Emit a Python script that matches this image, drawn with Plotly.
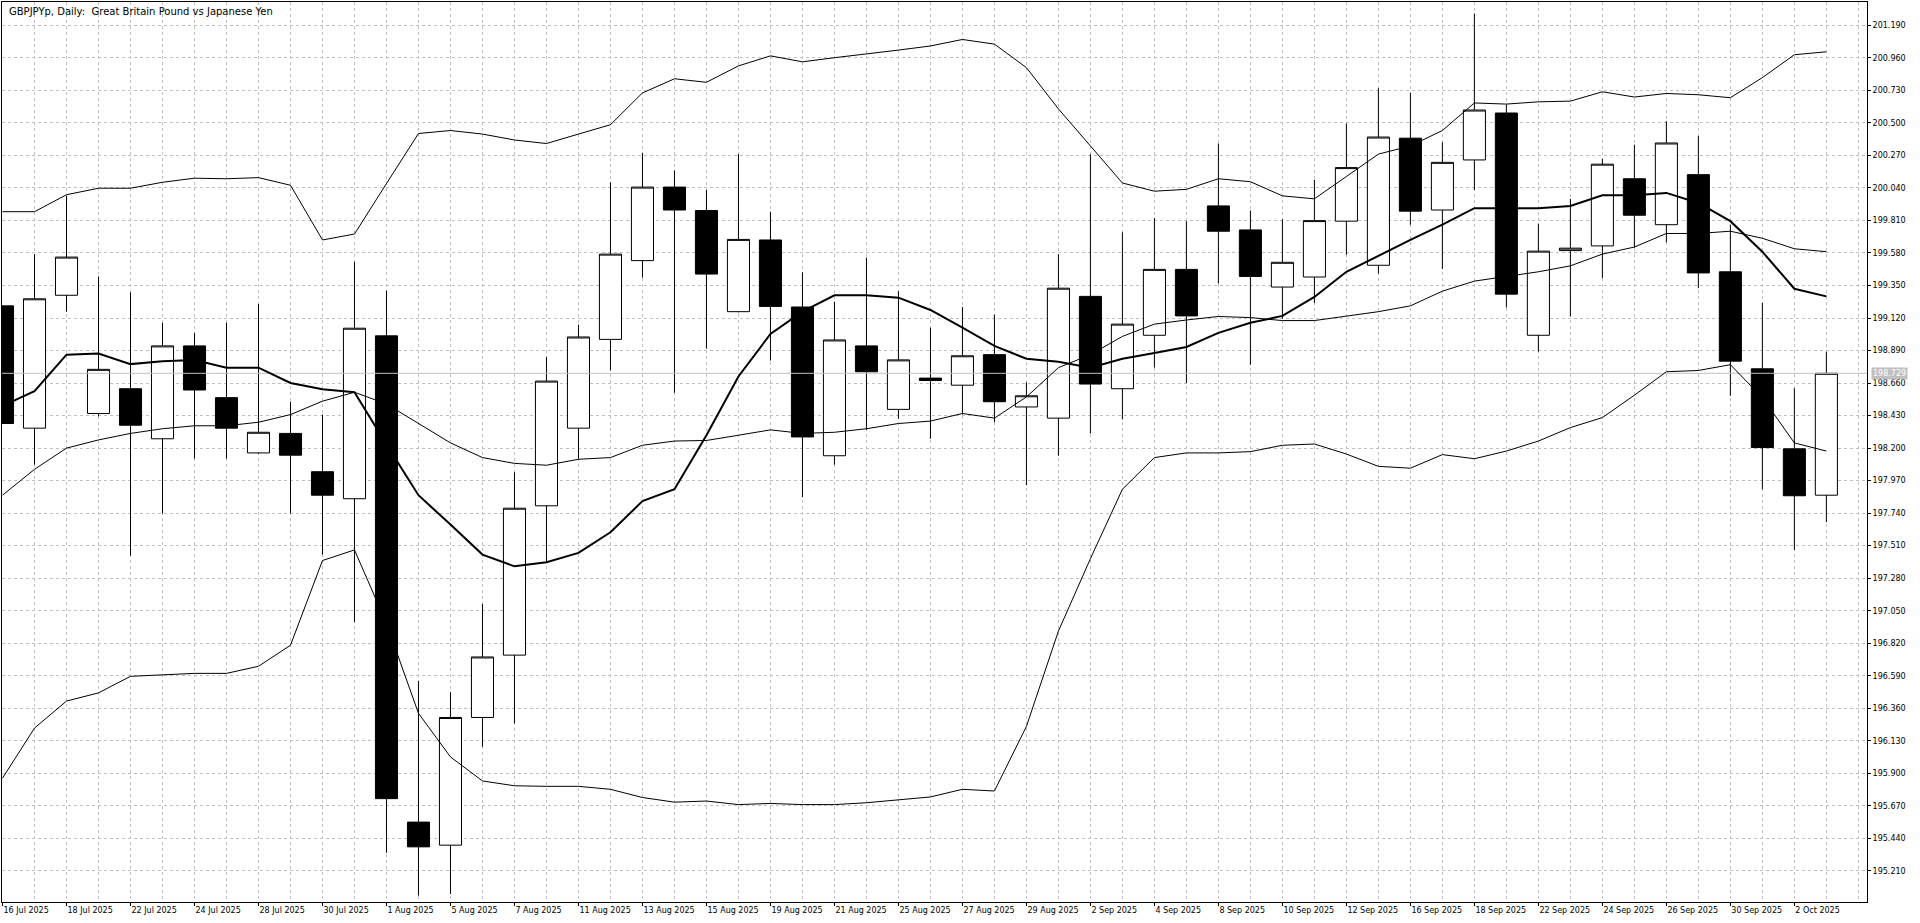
"""
GBPJPYp daily chart - MT4 style candles with moving average and Bollinger bands
"""
import pandas as pd
import plotly.graph_objects as go

# trading days shown on the chart
dates = [
    "2025-07-16", "2025-07-17", "2025-07-18", "2025-07-21", "2025-07-22", "2025-07-23",
    "2025-07-24", "2025-07-25", "2025-07-28", "2025-07-29", "2025-07-30", "2025-07-31",
    "2025-08-01", "2025-08-04", "2025-08-05", "2025-08-06", "2025-08-07", "2025-08-08",
    "2025-08-11", "2025-08-12", "2025-08-13", "2025-08-14", "2025-08-15", "2025-08-18",
    "2025-08-19", "2025-08-20", "2025-08-21", "2025-08-22", "2025-08-25", "2025-08-26",
    "2025-08-27", "2025-08-28", "2025-08-29", "2025-09-01", "2025-09-02", "2025-09-03",
    "2025-09-04", "2025-09-05", "2025-09-08", "2025-09-09", "2025-09-10", "2025-09-11",
    "2025-09-12", "2025-09-15", "2025-09-16", "2025-09-17", "2025-09-18", "2025-09-19",
    "2025-09-22", "2025-09-23", "2025-09-24", "2025-09-25", "2025-09-26", "2025-09-29",
    "2025-09-30", "2025-10-01", "2025-10-02", "2025-10-03",
]

open_ = [
    199.206, 198.341, 199.281, 198.445, 198.620, 198.266, 198.923, 198.557, 198.166, 198.304,
    198.033, 197.842, 198.994, 195.555, 195.392, 196.295, 196.736, 197.792, 198.341, 198.969,
    199.526, 200.046, 199.880, 199.165, 199.672, 199.198, 198.146, 198.923, 198.474, 198.695,
    198.645, 198.861, 198.491, 198.412, 199.273, 198.620, 198.998, 199.464, 199.913, 199.743,
    199.339, 199.410, 199.805, 199.493, 200.392, 199.884, 200.238, 200.570, 198.998, 199.597,
    199.630, 200.105, 199.780, 200.134, 199.447, 198.761, 198.195, 197.867,
]
high = [
    199.210, 199.572, 199.984, 199.414, 199.302, 199.086, 199.015, 199.086, 199.219, 198.528,
    198.437, 199.518, 199.314, 196.553, 196.474, 197.098, 198.029, 198.844, 199.073, 200.080,
    200.287, 200.163, 200.025, 200.279, 199.872, 199.443, 199.235, 199.547, 199.310, 199.052,
    199.198, 199.144, 198.665, 199.572, 200.279, 199.726, 199.826, 199.805, 200.354, 199.880,
    199.818, 200.096, 200.495, 200.745, 200.712, 200.362, 201.273, 200.629, 199.788, 199.963,
    200.246, 200.346, 200.512, 200.408, 199.780, 199.227, 198.624, 198.882,
]
low = [
    198.370, 198.083, 199.165, 198.424, 197.439, 197.738, 198.125, 198.125, 198.160, 197.738,
    197.447, 196.969, 195.338, 195.035, 195.047, 196.087, 196.253, 197.397, 198.125, 198.749,
    199.406, 198.591, 198.903, 199.160, 198.819, 197.854, 198.083, 198.329, 198.408, 198.266,
    198.437, 198.383, 197.938, 198.146, 198.304, 198.403, 198.769, 198.660, 199.364, 198.790,
    199.115, 199.227, 199.568, 199.435, 199.780, 199.468, 200.025, 199.194, 198.882, 199.131,
    199.402, 199.618, 199.655, 199.331, 198.570, 197.909, 197.480, 197.676,
]
close = [
    198.374, 199.256, 199.551, 198.757, 198.362, 198.923, 198.611, 198.341, 198.312, 198.150,
    197.867, 199.048, 195.721, 195.380, 196.295, 196.723, 197.775, 198.674, 198.986, 199.572,
    200.046, 199.884, 199.431, 199.676, 199.202, 198.279, 198.965, 198.740, 198.824, 198.678,
    198.853, 198.528, 198.570, 199.331, 198.653, 199.077, 199.464, 199.135, 199.734, 199.414,
    199.514, 199.809, 200.184, 200.400, 199.876, 200.221, 200.591, 199.289, 199.593, 199.614,
    200.208, 199.847, 200.358, 199.439, 198.815, 198.204, 197.863, 198.729,
]

# thick moving average
ma_line = [
    198.499, 198.603, 198.861, 198.869, 198.794, 198.815, 198.823, 198.769, 198.769, 198.661,
    198.616, 198.595, 198.225, 197.867, 197.659, 197.447, 197.364, 197.393, 197.459, 197.605,
    197.825, 197.909, 198.291, 198.707, 199.007, 199.165, 199.281, 199.281, 199.264, 199.177,
    199.052, 198.923, 198.832, 198.811, 198.769, 198.832, 198.873, 198.915, 199.015, 199.086,
    199.135, 199.269, 199.447, 199.560, 199.672, 199.780, 199.897, 199.897, 199.897, 199.913,
    199.988, 199.988, 200.005, 199.934, 199.805, 199.589, 199.327, 199.273,
]
# Bollinger bands
bb_upper = [
    199.872, 199.872, 199.992, 200.038, 200.038, 200.080, 200.109, 200.105, 200.113, 200.059,
    199.672, 199.714, 200.071, 200.425, 200.446, 200.421, 200.379, 200.354, 200.421, 200.487,
    200.712, 200.812, 200.787, 200.903, 200.974, 200.932, 200.961, 200.986, 201.015, 201.044,
    201.090, 201.057, 200.891, 200.599, 200.337, 200.075, 200.017, 200.030, 200.105, 200.084,
    199.984, 199.963, 200.121, 200.279, 200.337, 200.446, 200.641, 200.633, 200.649, 200.654,
    200.720, 200.683, 200.708, 200.699, 200.678, 200.820, 200.982, 201.003,
]
bb_middle = [
    197.867, 198.050, 198.200, 198.258, 198.304, 198.337, 198.358, 198.358, 198.383, 198.437,
    198.532, 198.595, 198.512, 198.374, 198.237, 198.133, 198.092, 198.079, 198.121, 198.133,
    198.220, 198.250, 198.254, 198.291, 198.329, 198.304, 198.312, 198.337, 198.374, 198.391,
    198.445, 198.412, 198.562, 198.769, 198.861, 198.990, 199.077, 199.106, 199.131, 199.123,
    199.102, 199.102, 199.135, 199.165, 199.206, 199.310, 199.381, 199.414, 199.447, 199.489,
    199.572, 199.622, 199.718, 199.718, 199.734, 199.684, 199.610, 199.589,
]
bb_lower = [
    195.866, 196.220, 196.411, 196.469, 196.586, 196.598, 196.607, 196.607, 196.657, 196.806,
    197.405, 197.480, 196.960, 196.324, 196.016, 195.846, 195.812, 195.808, 195.808, 195.787,
    195.729, 195.696, 195.704, 195.679, 195.687, 195.679, 195.679, 195.692, 195.713, 195.733,
    195.787, 195.775, 196.232, 196.906, 197.418, 197.909, 198.133, 198.166, 198.166, 198.175,
    198.220, 198.229, 198.158, 198.071, 198.058, 198.154, 198.125, 198.179, 198.250, 198.345,
    198.416, 198.574, 198.740, 198.749, 198.790, 198.557, 198.237, 198.179,
]

# price scale labels on the right
price_ticks = [195.21, 195.44, 195.67, 195.90, 196.13, 196.36, 196.59, 196.82, 197.05,
               197.28, 197.51, 197.74, 197.97, 198.20, 198.43, 198.66, 198.89, 199.12,
               199.35, 199.58, 199.81, 200.04, 200.27, 200.50, 200.73, 200.96, 201.19]
last_price = 198.729

FONT = "DejaVu Sans"
GRID = "#c0c0c0"

x = list(range(len(dates)))
date_labels = [f"{d.day} {d.strftime('%b %Y')}" for d in pd.to_datetime(dates)]
label_pos = x[::2]
label_text = date_labels[::2]

fig = go.Figure()

# current price line
fig.add_trace(go.Scatter(
    x=[-1, len(dates) + 1], y=[last_price, last_price],
    mode='lines', line=dict(color=GRID, width=1),
    hoverinfo='skip', showlegend=False
))

fig.add_trace(go.Candlestick(
    x=x, open=open_, high=high, low=low, close=close,
    increasing=dict(line=dict(color='black', width=1), fillcolor='white'),
    decreasing=dict(line=dict(color='black', width=1), fillcolor='black'),
    whiskerwidth=0,
    showlegend=False
))

for series, w in [(bb_upper, 1), (bb_middle, 1), (bb_lower, 1), (ma_line, 2)]:
    fig.add_trace(go.Scatter(
        x=x, y=series, mode='lines',
        line=dict(color='black', width=w),
        hoverinfo='skip', showlegend=False
    ))

fig.add_annotation(
    xref='paper', yref='paper', x=0, y=1, xanchor='left', yanchor='top',
    xshift=5, yshift=-2, showarrow=False,
    text="GBPJPYp, Daily:\u00a0 Great Britain Pound vs Japanese Yen",
    font=dict(family=FONT, size=10, color='black')
)

# price box on the right scale
fig.add_annotation(
    xref='paper', yref='y', x=1, y=last_price, xanchor='left', yanchor='middle',
    xshift=4, showarrow=False, text=f"{last_price:.3f}",
    font=dict(family=FONT, size=8, color='white'),
    bgcolor=GRID, borderpad=1
)

fig.update_layout(
    width=1920, height=923,
    margin=dict(l=2, r=53, t=2, b=21),
    paper_bgcolor='white', plot_bgcolor='white',
    boxgap=0.31, boxgroupgap=0,
    font=dict(family=FONT, size=8, color='black'),
    hovermode=False,
)

fig.update_xaxes(
    range=[-0.016, 58.27],
    tickvals=label_pos, ticktext=label_text,
    ticks='outside', ticklen=3, tickcolor='black',
    ticklabelposition='outside right',
    showgrid=True, gridcolor=GRID, griddash='3px,3px', gridwidth=1,
    minor=dict(dtick=1, tick0=0, showgrid=True, gridcolor=GRID, griddash='3px,3px', ticks=''),
    showline=True, linecolor='black', linewidth=1, mirror=True,
    zeroline=False, rangeslider=dict(visible=False),
    tickfont=dict(family=FONT, size=8, color='black'),
)

fig.update_yaxes(
    side='right', range=[194.99, 201.355],
    tickvals=price_ticks, ticktext=[f"{v:.3f}" for v in price_ticks],
    ticks='outside', ticklen=3, tickcolor='black',
    showgrid=True, gridcolor=GRID, griddash='3px,3px', gridwidth=1,
    showline=True, linecolor='black', linewidth=1, mirror=True,
    zeroline=False,
    tickfont=dict(family=FONT, size=8, color='black'),
)

fig.write_html("out.html", config={'displayModeBar': False},
               post_script="document.body.style.margin='0px';")
